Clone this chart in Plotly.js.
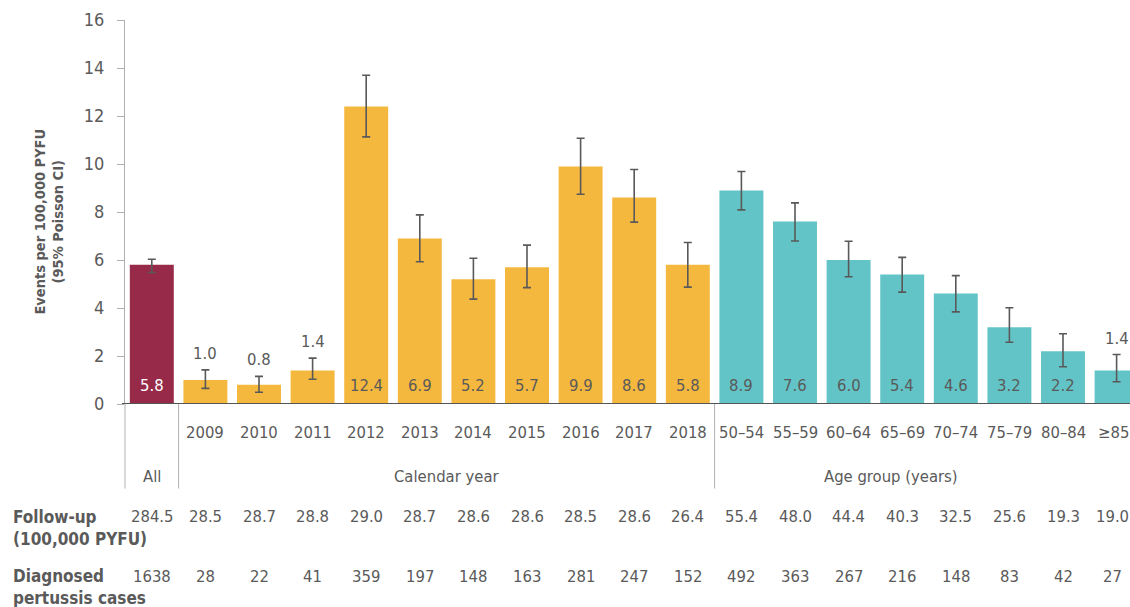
<!DOCTYPE html>
<html>
<head>
<meta charset="utf-8">
<script src="https://cdn.plot.ly/plotly-3.0.1.min.js"></script>
<style>
  html, body { margin: 0; padding: 0; background: #fff; }
  #chart { width: 1130px; height: 607px; }
</style>
</head>
<body>
<div id="chart"></div>
<script>
// Pertussis incidence per 100,000 person-years of follow-up, overall, by year and by age group
const categories = ['All', '2009', '2010', '2011', '2012', '2013', '2014', '2015', '2016', '2017', '2018',
  '50–54', '55–59', '60–64', '65–69', '70–74', '75–79', '80–84', '≥85'];
const groups = ['All', 'Calendar year', 'Calendar year', 'Calendar year', 'Calendar year', 'Calendar year',
  'Calendar year', 'Calendar year', 'Calendar year', 'Calendar year', 'Calendar year',
  'Age group (years)', 'Age group (years)', 'Age group (years)', 'Age group (years)',
  'Age group (years)', 'Age group (years)', 'Age group (years)', 'Age group (years)'];
const rates = [5.8, 1.0, 0.8, 1.4, 12.4, 6.9, 5.2, 5.7, 9.9, 8.6, 5.8, 8.9, 7.6, 6.0, 5.4, 4.6, 3.2, 2.2, 1.4];
const ciUpper = [6.03, 1.42, 1.15, 1.91, 13.70, 7.88, 6.07, 6.62, 11.07, 9.77, 6.73, 9.69, 8.38, 6.78, 6.11, 5.35, 4.01, 2.93, 2.06];
const ciLower = [5.48, 0.65, 0.49, 1.03, 11.13, 5.93, 4.37, 4.85, 8.74, 7.58, 4.87, 8.09, 6.79, 5.30, 4.66, 3.84, 2.57, 1.55, 0.93];
const followUp = [284.5, 28.5, 28.7, 28.8, 29.0, 28.7, 28.6, 28.6, 28.5, 28.6, 26.4, 55.4, 48.0, 44.4, 40.3, 32.5, 25.6, 19.3, 19.0];
const cases = [1638, 28, 22, 41, 359, 197, 148, 163, 281, 247, 152, 492, 363, 267, 216, 148, 83, 42, 27];
const yTicks = [0, 2, 4, 6, 8, 10, 12, 14, 16];

const groupColors = { 'All': '#962a48', 'Calendar year': '#f5b83e', 'Age group (years)': '#63c4c7' };
const FONT = '"DejaVu Sans Condensed", "Liberation Sans Narrow", "Roboto", sans-serif';
const GREY = '#5a5a5a';
const SIZE = 16.5;
const LAST = categories.length - 1;

const bars = {
  type: 'bar',
  x: categories,
  y: rates,
  marker: { color: groups.map(g => groupColors[g]), line: { width: 0 } },
  error_y: {
    type: 'data',
    symmetric: false,
    array: ciUpper.map((u, i) => +(u - rates[i]).toFixed(3)),
    arrayminus: rates.map((r, i) => +(r - ciLower[i]).toFixed(3)),
    color: '#595959',
    thickness: 1.6,
    width: 4
  },
  hoverinfo: 'x+y'
};

const annotations = [];
// value labels: inside the bar foot, or above the CI whisker for short bars
// (x is given as the category index so numeric-looking names stay categories)
rates.forEach((r, i) => {
  const inside = r >= 2;
  annotations.push({
    x: i, xref: 'x',
    y: inside ? 0 : ciUpper[i], yref: 'y',
    yanchor: 'bottom', xanchor: 'center',
    yshift: inside ? 7 : 5,
    text: r.toFixed(1), showarrow: false,
    font: { family: FONT, size: SIZE, color: i === 0 ? '#ffffff' : GREY }
  });
});

// category labels below the baseline ('All' sits on the group row instead)
categories.forEach((c, i) => {
  if (c === 'All') return;
  annotations.push({
    x: i, xref: 'x', y: -0.0755, yref: 'paper',
    xanchor: 'center', yanchor: 'middle',
    xshift: i === LAST ? -3 : 0,
    text: c, showarrow: false,
    font: { family: FONT, size: SIZE, color: GREY }
  });
});

// group labels under the year / age ticks
const groupNames = [...new Set(groups)];
groupNames.forEach(g => {
  const idx = groups.map((v, i) => v === g ? i : -1).filter(i => i >= 0);
  let xc = (idx[0] + idx[idx.length - 1]) / 2;
  if (g === 'Age group (years)') xc -= 0.7;
  annotations.push({
    x: xc, xref: 'x', y: -0.1875, yref: 'paper',
    xanchor: 'center', yanchor: 'middle',
    text: g, showarrow: false,
    font: { family: FONT, size: SIZE, color: GREY }
  });
});

// table rows beneath the chart
categories.forEach((c, i) => {
  const shift = i === LAST ? -4 : 0;
  annotations.push({
    x: i, xref: 'x', y: -0.294, yref: 'paper',
    xanchor: 'center', yanchor: 'middle', xshift: shift,
    text: followUp[i].toFixed(1), showarrow: false,
    font: { family: FONT, size: SIZE, color: GREY }
  });
  annotations.push({
    x: i, xref: 'x', y: -0.448, yref: 'paper',
    xanchor: 'center', yanchor: 'middle', xshift: shift,
    text: String(cases[i]), showarrow: false,
    font: { family: FONT, size: SIZE, color: GREY }
  });
});
annotations.push({
  x: -0.1134, xref: 'paper', y: -0.324, yref: 'paper',
  xanchor: 'left', yanchor: 'middle', align: 'left',
  text: '<b>Follow-up<br>(100,000 PYFU)</b>', showarrow: false,
  font: { family: FONT, size: 17, color: GREY }
});
annotations.push({
  x: -0.1134, xref: 'paper', y: -0.476, yref: 'paper',
  xanchor: 'left', yanchor: 'middle', align: 'left',
  text: '<b>Diagnosed<br>pertussis cases</b>', showarrow: false,
  font: { family: FONT, size: 17, color: GREY }
});
// y-axis title
annotations.push({
  x: -0.075, xref: 'paper', y: 0.474, yref: 'paper',
  xanchor: 'center', yanchor: 'middle', textangle: -90,
  text: '<b>Events per 100,000 PYFU<br>(95% Poisson CI)</b>', showarrow: false,
  font: { family: FONT, size: 14.5, color: GREY }
});

const shapes = [
  // baseline
  { type: 'line', xref: 'paper', yref: 'y', x0: -0.003, x1: 1, y0: 0, y1: 0,
    line: { color: '#555555', width: 2 } },
  // group separators extending below the axis
  { type: 'line', xref: 'paper', yref: 'paper', x0: 0, x1: 0, y0: 0, y1: -0.22,
    line: { color: '#b0b0b0', width: 1 } },
  { type: 'line', xref: 'x', yref: 'paper', x0: 0.5, x1: 0.5, y0: 0, y1: -0.22,
    line: { color: '#b0b0b0', width: 1 } },
  { type: 'line', xref: 'x', yref: 'paper', x0: 10.5, x1: 10.5, y0: 0, y1: -0.22,
    line: { color: '#b0b0b0', width: 1 } }
];

const layout = {
  width: 1130, height: 607,
  margin: { l: 125, r: 0, t: 20, b: 203, pad: 0 },
  paper_bgcolor: '#ffffff', plot_bgcolor: '#ffffff',
  showlegend: false,
  bargap: 0.18,
  font: { family: FONT, size: SIZE, color: GREY },
  xaxis: {
    type: 'category',
    range: [-0.5, 18.25],
    showticklabels: false,
    ticks: '', showline: false, showgrid: false, zeroline: false,
    fixedrange: true
  },
  yaxis: {
    range: [0, 16],
    tickvals: yTicks,
    ticks: 'outside', ticklen: 7, tickcolor: '#b0b0b0', tickwidth: 1,
    showline: true, linecolor: '#b0b0b0', linewidth: 1,
    showgrid: false, zeroline: false,
    ticklabelstandoff: 9,
    tickfont: { family: FONT, size: 18, color: GREY },
    fixedrange: true
  },
  annotations: annotations,
  shapes: shapes
};

Plotly.newPlot('chart', [bars], layout, { displayModeBar: false, staticPlot: true });
</script>
</body>
</html>
